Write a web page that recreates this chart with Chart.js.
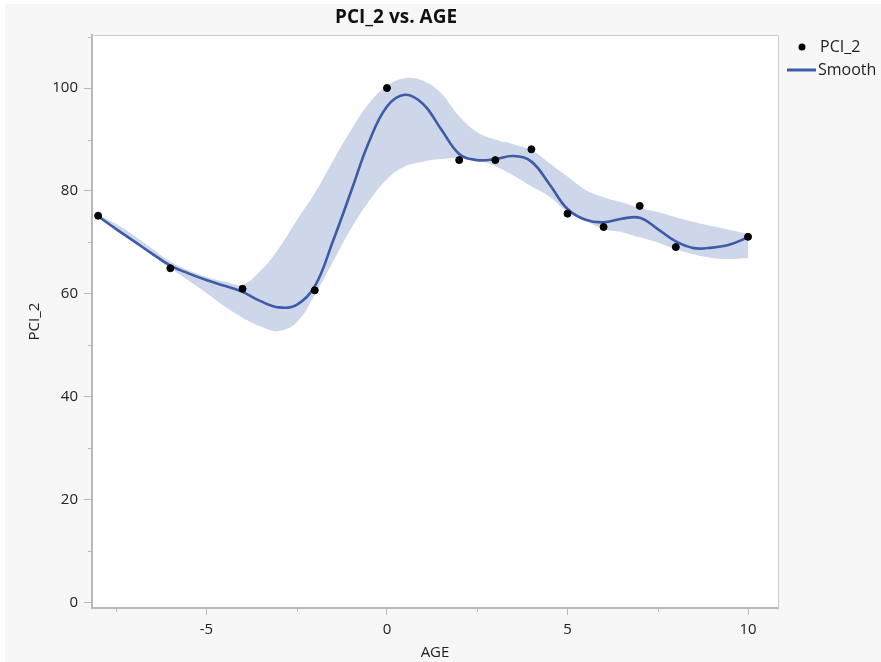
<!DOCTYPE html>
<html>
<head>
<meta charset="utf-8">
<title>PCI_2 vs. AGE</title>
<script src="https://cdn.jsdelivr.net/npm/chart.js@4.4.1/dist/chart.umd.min.js"></script>
<style>
  html, body { margin: 0; padding: 0; background: #ffffff; }
  #wrap { width: 881px; height: 662px; position: relative; }
  canvas { display: block; }
</style>
</head>
<body>
<div id="wrap"><canvas id="chart" width="881" height="662"></canvas></div>
<script>
// Observed values
const ages = [-8, -6, -4, -2, 0, 2, 3, 4, 5, 6, 7, 8, 10];
const pci2 = [75.2, 65.0, 61.0, 60.7, 100.0, 86.0, 86.0, 88.1, 75.6, 73.0, 77.1, 69.1, 71.1];

// Smoother fit and its confidence band, sampled along AGE
const smoothAge = [-8, -7.5, -7, -6.5, -6, -5.5, -5, -4.5, -4, -3.5, -3, -2.5, -2, -1.5, -1, -0.5,
                   0, 0.5, 1, 1.5, 2, 2.5, 3, 3.5, 4, 4.5, 5, 5.5, 6, 6.5, 7, 7.5, 8, 8.5, 9, 9.5, 10];
const smoothFit = [75.1, 72.6, 70.2, 67.8, 65.5, 64.0, 62.7, 61.6, 60.4, 58.6, 57.4, 57.9, 61.5, 70.2, 79.8, 89.5,
                   96.4, 98.7, 96.9, 92.0, 87.2, 86.0, 86.2, 86.8, 85.7, 81.3, 76.5, 74.4, 73.9, 74.6, 74.8, 72.6, 70.2, 68.9, 69.0, 69.6, 71.0];
const bandUpper = [75.3, 73.6, 71.3, 68.8, 66.3, 64.6, 63.3, 62.4, 61.8, 64.5, 68.8, 74.3, 79.6, 85.8, 91.8, 97.0,
                   100.4, 101.9, 101.4, 99.0, 94.5, 91.4, 90.0, 89.1, 87.9, 85.4, 82.8, 80.2, 78.8, 77.8, 76.7, 75.9, 74.9, 74.0, 73.2, 72.4, 71.6];
const bandLower = [75.0, 72.4, 70.0, 67.5, 65.0, 62.6, 60.2, 57.6, 55.4, 53.7, 52.8, 54.5, 59.8, 66.2, 72.6, 78.0,
                   82.3, 84.8, 85.7, 86.2, 86.4, 86.0, 84.8, 83.0, 80.9, 78.9, 75.9, 74.2, 72.6, 72.0, 71.0, 70.0, 68.7, 67.7, 67.0, 66.8, 67.0];

// Axis ticks
const xTicks = [-5, 0, 5, 10];
const xMinorTicks = [-7.5, -2.5, 2.5, 7.5];
const yTicks = [0, 20, 40, 60, 80, 100];
const yMinorTicks = [10, 30, 50, 70, 90, 110];

const FONT = "'Open Sans', 'Noto Sans', sans-serif";
const FIT_COLOR = '#3c5ba8';
const BAND_COLOR = '#ced7e9';
const AXIS_COLOR = '#b9b9b9';
const TEXT_COLOR = '#222222';

const toXY = (xs, ys) => xs.map((x, i) => ({ x: x, y: ys[i] }));

// Panel background, plot frame, minor ticks, title and legend
const decorations = {
  id: 'decorations',
  beforeDraw(chart) {
    const { ctx, chartArea: a } = chart;
    ctx.save();
    ctx.fillStyle = '#ffffff';
    ctx.fillRect(0, 0, chart.width, chart.height);
    ctx.fillStyle = '#f7f7f7';
    ctx.fillRect(5, 4, chart.width - 5, chart.height - 4);
    ctx.fillStyle = '#ffffff';
    ctx.fillRect(a.left, a.top, a.right - a.left, a.bottom - a.top);
    ctx.restore();
  },
  afterDraw(chart) {
    const { ctx, chartArea: a, scales } = chart;
    ctx.save();
    // top and right frame
    ctx.strokeStyle = '#cccccc';
    ctx.lineWidth = 1;
    ctx.beginPath();
    ctx.moveTo(a.left, a.top + 0.5);
    ctx.lineTo(a.right + 0.5, a.top + 0.5);
    ctx.lineTo(a.right + 0.5, a.bottom);
    ctx.stroke();
    // minor ticks
    ctx.strokeStyle = AXIS_COLOR;
    ctx.beginPath();
    yMinorTicks.forEach(v => {
      const py = Math.round(scales.y.getPixelForValue(v)) + 0.5;
      ctx.moveTo(a.left - 4, py);
      ctx.lineTo(a.left, py);
    });
    xMinorTicks.forEach(v => {
      const px = Math.round(scales.x.getPixelForValue(v)) + 0.5;
      ctx.moveTo(px, a.bottom);
      ctx.lineTo(px, a.bottom + 4);
    });
    ctx.stroke();
    // title
    ctx.fillStyle = '#111111';
    ctx.font = 'bold 19px ' + FONT;
    ctx.textAlign = 'center';
    ctx.textBaseline = 'middle';
    ctx.fillText('PCI_2 vs. AGE', 396, 18);
    // legend
    const pts = chart.data.datasets[0];
    const fit = chart.data.datasets[1];
    ctx.font = '16px ' + FONT;
    ctx.textAlign = 'left';
    ctx.fillStyle = '#000000';
    ctx.beginPath();
    ctx.arc(802, 47, 3.5, 0, Math.PI * 2);
    ctx.fill();
    ctx.fillStyle = TEXT_COLOR;
    ctx.fillText(pts.label, 820, 47);
    ctx.strokeStyle = FIT_COLOR;
    ctx.lineWidth = 3;
    ctx.beginPath();
    ctx.moveTo(787, 70);
    ctx.lineTo(816, 70);
    ctx.stroke();
    ctx.fillText(fit.label, 818, 70);
    ctx.restore();
  }
};

new Chart(document.getElementById('chart'), {
  type: 'scatter',
  data: {
    datasets: [
      {
        label: 'PCI_2',
        data: toXY(ages, pci2),
        backgroundColor: '#000000',
        borderColor: '#000000',
        pointRadius: 3.5,
        pointHoverRadius: 3.5,
        showLine: false,
        order: 0
      },
      {
        label: 'Smooth',
        data: toXY(smoothAge, smoothFit),
        showLine: true,
        borderColor: FIT_COLOR,
        borderWidth: 2.6,
        pointRadius: 0,
        tension: 0.4,
        fill: false,
        order: 1
      },
      {
        label: 'band upper',
        data: toXY(smoothAge, bandUpper),
        showLine: true,
        borderWidth: 0,
        borderColor: 'rgba(0,0,0,0)',
        backgroundColor: BAND_COLOR,
        pointRadius: 0,
        tension: 0.4,
        fill: '+1',
        order: 2
      },
      {
        label: 'band lower',
        data: toXY(smoothAge, bandLower),
        showLine: true,
        borderWidth: 0,
        borderColor: 'rgba(0,0,0,0)',
        pointRadius: 0,
        tension: 0.4,
        fill: false,
        order: 3
      }
    ]
  },
  options: {
    responsive: false,
    animation: false,
    devicePixelRatio: 1,
    layout: { padding: { left: 0, right: 103, top: 35, bottom: 0 } },
    plugins: {
      legend: { display: false },
      title: { display: false },
      tooltip: { enabled: false }
    },
    scales: {
      x: {
        type: 'linear',
        min: -8.17,
        max: 10.83,
        afterBuildTicks: s => { s.ticks = xTicks.map(v => ({ value: v })); },
        afterFit: s => { s.height = 54; },
        grid: { drawOnChartArea: false, drawTicks: true, tickLength: 7, color: AXIS_COLOR, tickColor: AXIS_COLOR },
        border: { display: true, color: AXIS_COLOR, width: 2 },
        ticks: {
          font: { family: FONT, size: 15 },
          color: TEXT_COLOR,
          padding: 6,
          maxRotation: 0,
          autoSkip: false,
          callback: v => String(v)
        },
        title: { display: true, text: 'AGE', font: { family: FONT, size: 15 }, color: TEXT_COLOR, padding: { top: 0, bottom: 0 } }
      },
      y: {
        type: 'linear',
        min: -1,
        max: 110.3,
        afterBuildTicks: s => { s.ticks = yTicks.map(v => ({ value: v })); },
        afterFit: s => { s.width = 92; },
        grid: { drawOnChartArea: false, drawTicks: true, tickLength: 8, color: AXIS_COLOR, tickColor: AXIS_COLOR },
        border: { display: true, color: AXIS_COLOR, width: 2 },
        ticks: {
          font: { family: FONT, size: 15 },
          color: TEXT_COLOR,
          padding: 6,
          autoSkip: false,
          callback: v => String(v)
        },
        title: { display: true, text: 'PCI_2', font: { family: FONT, size: 15 }, color: TEXT_COLOR, padding: { top: 26, bottom: 0 } }
      }
    }
  },
  plugins: [decorations]
});
</script>
</body>
</html>
